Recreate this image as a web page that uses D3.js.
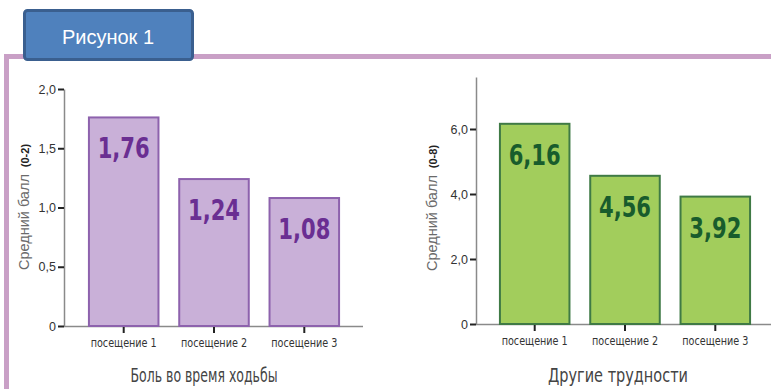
<!DOCTYPE html>
<html>
<head>
<meta charset="utf-8">
<script src="https://cdn.jsdelivr.net/npm/d3@7"></script>
<style>
  body { margin: 0; background: #fff; }
  svg { display: block; }
  .tick text { font-family: "Liberation Sans", Arial, sans-serif; font-size: 12.5px; fill: #333; }
  .narrow { font-family: "DejaVu Sans Condensed", sans-serif; }
</style>
</head>
<body>
<svg width="771" height="389"></svg>
<script>
// data
var visits = ["посещение 1", "посещение 2", "посещение 3"];
var painValues = [1.76, 1.24, 1.08];
var otherValues = [6.16, 4.56, 3.92];
var painTicks = [0, 0.5, 1.0, 1.5, 2.0];
var otherTicks = [0, 2, 4, 6];

var svg = d3.select("svg");

// frame
svg.append("path")
    .attr("d", "M6.5,389 V56.5 H771")
    .attr("fill", "none")
    .attr("stroke", "#c9a0c6")
    .attr("stroke-width", 5);

// heading box
svg.append("rect")
    .attr("x", 24.5).attr("y", 10.5)
    .attr("width", 168).attr("height", 49)
    .attr("rx", 3)
    .attr("fill", "#4f81bd")
    .attr("stroke", "#3a5f8f")
    .attr("stroke-width", 3);
svg.append("text")
    .attr("x", 108).attr("y", 44)
    .attr("text-anchor", "middle")
    .style("font-family", "Liberation Sans, Arial, sans-serif")
    .style("font-size", "20px")
    .attr("fill", "#fff")
    .text("Рисунок 1");

var fmt = d => d === 0 ? "0" : d3.format(".1f")(d).replace(".", ",");

function panel(opt) {
    var g = svg.append("g");

    var x = d3.scaleBand()
        .domain(visits)
        .range(opt.xRange)
        .paddingInner(0.23)
        .paddingOuter(0.11);
    var y = d3.scaleLinear()
        .domain(opt.yDomain)
        .range([opt.base, opt.top]);

    // baseline
    g.append("line")
        .attr("x1", opt.axisX).attr("x2", opt.baseEnd)
        .attr("y1", opt.base + 0.5).attr("y2", opt.base + 0.5)
        .attr("stroke", "#8a8a8a").attr("stroke-width", 1.5);

    // bars
    g.selectAll("rect.bar")
        .data(opt.values)
        .enter()
        .append("rect")
            .attr("class", "bar")
            .attr("x", (d, i) => x(visits[i]))
            .attr("y", d => y(d))
            .attr("width", x.bandwidth())
            .attr("height", d => opt.base - y(d))
            .attr("fill", opt.fill)
            .attr("stroke", opt.stroke)
            .attr("stroke-width", 2);

    g.selectAll("text.val")
        .data(opt.values)
        .enter()
        .append("text")
            .attr("class", "val narrow")
            .attr("x", (d, i) => x(visits[i]) + x.bandwidth() / 2)
            .attr("y", d => y(d) + 41)
            .attr("text-anchor", "middle")
            .attr("textLength", 52)
            .attr("lengthAdjust", "spacingAndGlyphs")
            .style("font-size", "28px")
            .style("font-weight", "bold")
            .attr("fill", opt.labelColor)
            .text(d => d.toFixed(2).replace(".", ","));

    // y axis
    var yAxis = d3.axisLeft(y)
        .tickValues(opt.ticks)
        .tickFormat(fmt)
        .tickSize(6)
        .tickSizeOuter(0);
    var ga = g.append("g")
        .attr("transform", "translate(" + opt.axisX + ",0)")
        .call(yAxis);
    ga.select(".domain").attr("stroke", "#8a8a8a").attr("stroke-width", 1.5);
    ga.selectAll(".tick line").attr("stroke", "#222").attr("stroke-width", 2);
    ga.selectAll(".tick text").attr("x", -8);

    // x axis ticks and labels
    var xAxis = d3.axisBottom(x).tickSize(6).tickSizeOuter(0).tickPadding(5);
    var gx = g.append("g")
        .attr("transform", "translate(0," + (opt.base + 1) + ")")
        .call(xAxis);
    gx.select(".domain").remove();
    gx.selectAll(".tick line").attr("stroke", "#222").attr("stroke-width", 2);
    gx.selectAll(".tick text")
        .attr("class", "narrow")
        .attr("textLength", 66)
        .attr("lengthAdjust", "spacingAndGlyphs")
        .style("font-family", "DejaVu Sans Condensed, sans-serif")
        .style("font-size", "12px")
        .attr("fill", "#444");

    // y label
    var yl = g.append("text")
        .attr("transform", "translate(" + opt.yLabelX + "," + opt.yLabelY + ") rotate(-90)")
        .attr("text-anchor", "middle")
        .style("font-family", "Liberation Sans, Arial, sans-serif");
    yl.append("tspan")
        .style("font-size", "14.5px")
        .attr("fill", "#6a6a6a")
        .text("Средний балл");
    yl.append("tspan")
        .style("font-size", "11px")
        .style("font-weight", "bold")
        .attr("fill", "#222")
        .attr("dx", 7)
        .text(opt.range);

    // title
    g.append("text")
        .attr("class", "narrow")
        .attr("x", opt.titleX).attr("y", 382)
        .attr("text-anchor", "middle")
        .attr("textLength", opt.titleW)
        .attr("lengthAdjust", "spacingAndGlyphs")
        .style("font-size", "20px")
        .attr("fill", "#444")
        .text(opt.title);
}

panel({
    values: painValues, ticks: painTicks, yDomain: [0, 2],
    xRange: [79, 349], base: 326, top: 89, axisX: 64, baseEnd: 363,
    fill: "#c9b0d8", stroke: "#8d62ad", labelColor: "#6a2e92",
    yLabelX: 29, yLabelY: 207, range: "(0-2)",
    titleX: 204, titleW: 147, title: "Боль во время ходьбы"
});

panel({
    values: otherValues, ticks: otherTicks, yDomain: [0, 7.6],
    xRange: [490, 760], base: 324, top: 77, axisX: 476, baseEnd: 771,
    fill: "#a2cd5c", stroke: "#3f7a45", labelColor: "#185c2c",
    yLabelX: 437, yLabelY: 208, range: "(0-8)",
    titleX: 618, titleW: 140, title: "Другие трудности"
});
</script>
</body>
</html>
